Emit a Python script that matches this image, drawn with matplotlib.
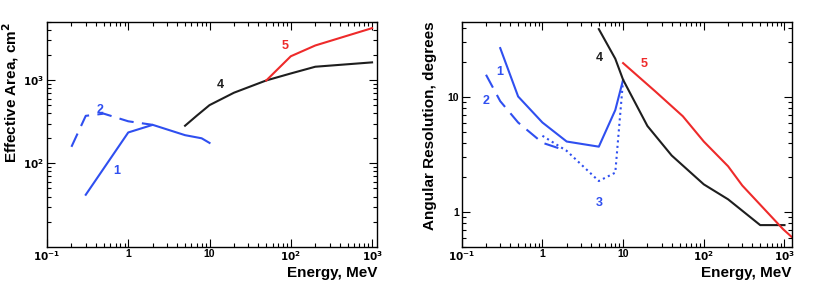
"""
Effective area and angular resolution versus energy, two log-log panels.
"""

import matplotlib
matplotlib.use('Agg')
from matplotlib import pyplot as plt
from matplotlib.ticker import LogLocator, NullFormatter

plt.rcParams['font.family'] = ['Liberation Sans', 'DejaVu Sans']
plt.rcParams['mathtext.default'] = 'bf'

blue = '#2f4ff0'
red = '#ee2a2a'
black = '#1e1e1e'

# ---- effective area (left panel) ----
area1_e = [0.3, 1, 2, 5, 8, 10]
area1_v = [42, 235, 290, 218, 200, 176]

area2_e = [0.2, 0.3, 0.5, 1, 2]
area2_v = [158, 372, 395, 320, 290]

area4_e = [5, 7, 10, 20, 50, 100, 200, 1000]
area4_v = [283, 375, 500, 705, 990, 1200, 1445, 1630]

area5_e = [50, 100, 200, 1000]
area5_v = [990, 1930, 2600, 4200]

# ---- angular resolution (right panel) ----
res1_e = [0.3, 0.5, 1, 2, 5, 8, 10]
res1_v = [26.6, 10.1, 6.0, 4.1, 3.7, 7.7, 14.1]

res2_e = [0.2, 0.3, 0.5, 1, 2]
res2_v = [15.6, 9.2, 6.0, 4.0, 3.4]

res3_e = [1, 2, 5, 8, 10]
res3_v = [4.6, 3.4, 1.86, 2.2, 14.1]

res4_e = [5, 8, 10, 20, 40, 100, 200, 500, 1000]
res4_v = [38.9, 21.5, 14.1, 5.6, 3.1, 1.74, 1.29, 0.77, 0.77]

res5_e = [10, 25, 55, 100, 200, 300, 960, 1220]
res5_v = [19.7, 11.2, 6.8, 4.1, 2.5, 1.7, 0.71, 0.61]

xticks = [0.1, 1, 10, 100, 1000]
xlabels = ['$10^{-1}$', '1', '10', '$10^{2}$', '$10^{3}$']

fig = plt.figure(figsize=(8.3, 2.99), dpi=100)
ax1 = fig.add_axes([0.0566, 0.175, 0.3976, 0.752])
ax2 = fig.add_axes([0.5563, 0.175, 0.3976, 0.752])

for ax in (ax1, ax2):
    ax.set_xscale('log')
    ax.set_yscale('log')
    ax.set_xticks(xticks)
    ax.set_xticklabels(xlabels)
    ax.xaxis.set_minor_locator(LogLocator(base=10, subs=range(2, 10)))
    ax.xaxis.set_minor_formatter(NullFormatter())
    ax.yaxis.set_minor_locator(LogLocator(base=10, subs=range(2, 10)))
    ax.yaxis.set_minor_formatter(NullFormatter())
    ax.tick_params(which='both', direction='in', top=True, right=True,
                   labelsize=7.5, width=0.8, pad=2)
    ax.tick_params(which='major', length=6)
    ax.tick_params(which='minor', length=3)
    for lab in ax.get_xticklabels() + ax.get_yticklabels():
        lab.set_fontweight('bold')
    for sp in ax.spines.values():
        sp.set_linewidth(1.0)

# left panel
ax1.plot(area1_e, area1_v, color=blue, lw=1.5)
ax1.plot(area2_e, area2_v, color=blue, lw=1.5, dashes=(7, 4))
ax1.plot(area4_e, area4_v, color=black, lw=1.5)
ax1.plot(area5_e, area5_v, color=red, lw=1.5)
ax1.set_xlim(0.1, 1150)
ax1.set_ylim(10, 5000)
ax1.set_yticks([100, 1000])
ax1.set_yticklabels(['$10^{2}$', '$10^{3}$'])

ax1.text(0.45, 440, '2', color=blue, fontsize=9, fontweight='bold', ha='center', va='center')
ax1.text(0.73, 80, '1', color=blue, fontsize=9, fontweight='bold', ha='center', va='center')
ax1.text(13.5, 870, '4', color=black, fontsize=9, fontweight='bold', ha='center', va='center')
ax1.text(85, 2550, '5', color=red, fontsize=9, fontweight='bold', ha='center', va='center')

ax1.set_xlabel('Energy, MeV', fontsize=11, fontweight='bold', loc='right')
ax1.set_ylabel('Effective Area, cm$^{2}$', fontsize=11, fontweight='bold', loc='top')
ax1.xaxis.set_label_coords(1.0, -0.085)
ax1.yaxis.set_label_coords(-0.079, 1.0)

# right panel
ax2.plot(res1_e, res1_v, color=blue, lw=1.5)
ax2.plot(res2_e, res2_v, color=blue, lw=1.5, dashes=(7, 4))
ax2.plot(res3_e, res3_v, color=blue, lw=1.5, linestyle=':')
ax2.plot(res4_e, res4_v, color=black, lw=1.5)
ax2.plot(res5_e, res5_v, color=red, lw=1.5)
ax2.set_xlim(0.1, 1230)
ax2.set_ylim(0.5, 45)
ax2.set_yticks([1, 10])
ax2.set_yticklabels(['1', '10'])

ax2.text(0.3, 16.5, '1', color=blue, fontsize=9, fontweight='bold', ha='center', va='center')
ax2.text(0.2, 9.3, '2', color=blue, fontsize=9, fontweight='bold', ha='center', va='center')
ax2.text(5.0, 1.2, '3', color=blue, fontsize=9, fontweight='bold', ha='center', va='center')
ax2.text(5.0, 22, '4', color=black, fontsize=9, fontweight='bold', ha='center', va='center')
ax2.text(18, 19.5, '5', color=red, fontsize=9, fontweight='bold', ha='center', va='center')

ax2.set_xlabel('Energy, MeV', fontsize=11, fontweight='bold', loc='right')
ax2.set_ylabel('Angular Resolution, degrees', fontsize=11, fontweight='bold', loc='top')
ax2.xaxis.set_label_coords(1.0, -0.085)
ax2.yaxis.set_label_coords(-0.075, 1.0)

plt.savefig('out.png', dpi=100)
